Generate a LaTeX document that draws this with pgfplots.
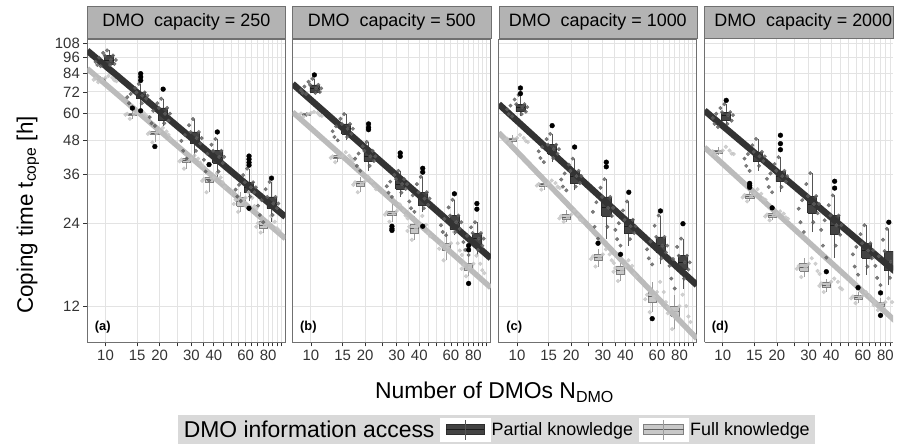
\documentclass[border=0pt]{standalone}
\usepackage{pgfplots}
\pgfplotsset{compat=1.18}
\usepackage{fontspec}
\setmainfont{Liberation Sans}

\definecolor{dkfill}{HTML}{434343}
\definecolor{dkline}{HTML}{2E2E2E}
\definecolor{dkmed}{HTML}{1C1C1C}
\definecolor{dkwhisk}{HTML}{555555}
\definecolor{ltfill}{HTML}{C8C8C8}
\definecolor{ltline}{HTML}{7F7F7F}
\definecolor{ltmed}{HTML}{5C5C5C}
\definecolor{ltwhisk}{HTML}{9C9C9C}
\definecolor{dkreg}{HTML}{333333}
\definecolor{ltreg}{HTML}{BBBBBB}
\definecolor{dkpt}{HTML}{5E5E5E}
\definecolor{ltpt}{HTML}{C4C4C4}
\definecolor{gridc}{HTML}{E3E3E3}
\definecolor{framec}{HTML}{707070}
\definecolor{tickc}{HTML}{333333}
\definecolor{stripc}{HTML}{B3B3B3}
\definecolor{legbg}{HTML}{D9D9D9}

% box: N, lower whisker, q1, median, q3, upper whisker
\newcommand{\dbox}[6]{%
  \pgfmathsetmacro{\bxc}{#1*1.045}\pgfmathsetmacro{\bxl}{#1*1.045/1.06}\pgfmathsetmacro{\bxr}{#1*1.045*1.06}%
  \addplot[color=dkwhisk, line width=0.7pt] coordinates {(\bxc,#2) (\bxc,#6)};
  \addplot[fill=dkfill, draw=dkline, line width=0.6pt] coordinates {(\bxl,#3) (\bxr,#3) (\bxr,#5) (\bxl,#5) (\bxl,#3)};
  \addplot[color=dkmed, line width=0.8pt] coordinates {(\bxl,#4) (\bxr,#4)};
}
\newcommand{\lbox}[6]{%
  \pgfmathsetmacro{\bxc}{#1*0.94}\pgfmathsetmacro{\bxl}{#1*0.94/1.055}\pgfmathsetmacro{\bxr}{#1*0.94*1.055}%
  \addplot[color=ltwhisk, line width=0.7pt] coordinates {(\bxc,#2) (\bxc,#6)};
  \addplot[fill=ltfill, draw=ltline, line width=0.6pt] coordinates {(\bxl,#3) (\bxr,#3) (\bxr,#5) (\bxl,#5) (\bxl,#3)};
  \addplot[color=ltmed, line width=0.8pt] coordinates {(\bxl,#4) (\bxr,#4)};
}
\newcommand{\tagfont}{\bfseries\fontsize{13}{13}\selectfont}
\newcommand{\tickfont}{\fontsize{15}{15}\selectfont}
\newcommand{\stripfont}{\fontsize{18}{18}\selectfont}

\begin{document}
\begin{tikzpicture}
\path (0,0) rectangle (897pt,447pt);

% ---------- (a) capacity 250
\begin{axis}[xmode=log, ymode=log, scale only axis, width=199pt, height=304.7pt,
    xmin=7.92, xmax=99.9, ymin=8.85, ymax=112,
    xtick={10,15,20,25,30,35,40,45,50,55,60,65,70,75,80,85,90,95},
    xticklabels={10,15,20,{},30,{},40,{},{},{},60,{},{},{},80,{},{},{}},
    ytick={12,24,36,48,60,72,84,96,108},
    yticklabels={12,24,36,48,60,72,84,96,108},
    minor xtick={}, minor ytick={},
    grid=major, major grid style={draw=gridc, line width=1pt},
    axis line style={draw=framec, line width=0.9pt},
    tick align=outside, major tick length=4pt,
    tick style={draw=tickc, line width=0.8pt},
    xtick pos=left, ytick pos=left,
    ticklabel style={font=\tickfont, text=tickc},
    title style={at={(0.5,1)}, anchor=south, yshift=-5pt, fill=stripc, draw=framec,
      minimum width=199pt, minimum height=32pt, inner sep=0pt, font=\stripfont},
  at={(87.7pt,103pt)}, anchor=south west,
  title={DMO\ \ capacity = 250},
  ylabel={Coping time t\textsubscript{cope} [h]},
  ylabel style={at={(axis description cs:-0.30,0.42)}, anchor=center, font=\fontsize{22.5}{22.5}\selectfont}]
\addplot[only marks, mark=*, mark size=1.9pt, color=ltpt, opacity=0.8] coordinates {
  (9.1,78.1) (10.9,81.0) (9.6,80.2) (10.4,82.4) (11.2,79.4) (8.8,80.6) (8.6,79.8) (10.0,81.0) (11.5,78.8)
  (13.65,57.5) (16.35,60.3) (14.4,59.7) (15.6,61.3) (16.8,59.2) (13.2,60.0) (12.9,59.5) (15.0,60.3) (17.25,58.4)
  (18.2,47.2) (21.8,51.7) (19.2,51.0) (20.8,53.3) (22.4,50.3) (17.6,51.3) (17.2,50.7) (20.0,51.7) (23.0,48.8)
  (27.3,37.9) (32.7,41.2) (28.8,40.6) (31.2,42.3) (33.6,39.9) (26.4,40.9) (25.8,40.3) (30.0,41.2) (34.5,38.9)
  (36.4,31.1) (43.6,35.2) (38.4,34.5) (41.6,36.5) (44.8,33.8) (35.2,34.8) (34.4,34.2) (40.0,35.2) (46.0,32.5)
  (54.6,26.4) (65.4,29.7) (57.6,28.7) (62.4,31.1) (67.2,27.7) (52.8,29.2) (51.6,28.2) (60.0,29.7) (69.0,27.1)
  (72.8,22.2) (87.2,24.3) (76.8,23.6) (83.2,25.5) (89.6,23.0) (70.4,24.0) (68.8,23.3) (80.0,24.3) (92.0,22.6)};
\addplot[only marks, mark=*, mark size=1.8pt, color=dkpt, opacity=0.8] coordinates {
  (9.0,90.2) (11.0,97.6) (9.4,89.3) (9.7,99.8) (10.7,94.1) (10.2,101.9) (9.2,95.9) (11.2,91.0) (8.8,92.6) (9.9,97.6) (10.6,90.2) (11.4,94.1)
  (13.5,65.5) (16.5,71.7) (14.1,62.9) (14.6,74.4) (16.0,69.8) (15.3,77.0) (13.8,70.8) (16.8,68.0) (13.2,68.9) (14.85,71.7) (15.9,65.5) (17.1,69.8)
  (18.0,55.4) (22.0,63.0) (18.8,54.2) (19.4,65.5) (21.4,60.0) (20.4,68.0) (18.4,61.5) (22.4,56.6) (17.6,58.3) (19.8,63.0) (21.2,55.4) (22.8,60.0)
  (27.0,44.0) (33.0,51.5) (28.2,41.2) (29.1,54.5) (32.1,48.9) (30.6,57.4) (27.6,50.2) (33.6,46.7) (26.4,47.8) (29.7,51.5) (31.8,44.0) (34.2,48.9)
  (36.0,37.0) (44.0,44.0) (37.6,34.3) (38.8,46.3) (42.8,41.8) (40.8,48.6) (36.8,42.9) (44.8,39.7) (35.2,40.8) (39.6,44.0) (42.4,37.0) (45.6,41.8)
  (54.0,30.0) (66.0,33.8) (56.4,28.9) (58.2,35.9) (64.2,32.4) (61.2,37.9) (55.2,33.1) (67.2,31.1) (52.8,31.8) (59.4,33.8) (63.6,30.0) (68.4,32.4)
  (72.0,25.7) (88.0,29.9) (75.2,24.2) (77.6,31.9) (85.6,28.3) (81.6,33.9) (73.6,29.1) (89.6,27.2) (70.4,27.8) (79.2,29.9) (84.8,25.7) (91.2,28.3)};
\lbox{10}{78.1}{79.4}{80.2}{81.0}{82.4}
\lbox{15}{57.5}{59.2}{59.7}{60.3}{61.3}
\lbox{20}{47.2}{50.3}{51.0}{51.7}{53.3}
\lbox{30}{37.9}{39.9}{40.6}{41.2}{42.3}
\lbox{40}{31.1}{33.8}{34.5}{35.2}{36.5}
\lbox{60}{26.4}{27.7}{28.7}{29.7}{31.1}
\lbox{80}{22.2}{23.0}{23.6}{24.3}{25.5}
\dbox{10}{89.3}{91.0}{94.1}{97.6}{101.9}
\dbox{15}{62.9}{68.0}{69.8}{71.7}{77.0}
\dbox{20}{54.2}{56.6}{60.0}{63.0}{68.0}
\dbox{30}{41.2}{46.7}{48.9}{51.5}{57.4}
\dbox{40}{34.3}{39.7}{41.8}{44.0}{48.6}
\dbox{60}{28.9}{31.1}{32.4}{33.8}{37.9}
\dbox{80}{24.2}{27.2}{28.3}{29.9}{33.9}
\addplot[color=ltreg, line width=5.5pt] coordinates {(7.92,87.5) (99.9,21.1)};
\addplot[color=dkreg, line width=6.5pt] coordinates {(7.92,101.7) (99.9,25.3)};
\addplot[only marks, mark=*, mark size=2.4pt, black] coordinates {(14.1,62.9) (18.8,45.6) (37.6,39.2)
  (15.68,83.9) (15.68,81.6) (15.68,79.3) (15.68,61.5) (20.9,73.7) (41.8,51.5)
  (62.7,42.1) (62.7,41.0) (62.7,39.9) (62.7,39.0) (62.7,27.2) (83.6,35.0)};
\node[anchor=west, font=\tagfont] at (rel axis cs:0.02,0.049) {(a)};
\end{axis}

% ---------- (b) capacity 500
\begin{axis}[xmode=log, ymode=log, scale only axis, width=199pt, height=304.7pt,
    xmin=7.92, xmax=99.9, ymin=8.85, ymax=112,
    xtick={10,15,20,25,30,35,40,45,50,55,60,65,70,75,80,85,90,95},
    xticklabels={10,15,20,{},30,{},40,{},{},{},60,{},{},{},80,{},{},{}},
    ytick={12,24,36,48,60,72,84,96,108}, yticklabels={}, y tick style={draw=none},
    minor xtick={}, minor ytick={},
    grid=major, major grid style={draw=gridc, line width=1pt},
    axis line style={draw=framec, line width=0.9pt},
    tick align=outside, major tick length=4pt,
    x tick style={draw=tickc, line width=0.8pt},
    xtick pos=left, ytick pos=left,
    ticklabel style={font=\tickfont, text=tickc},
    title style={at={(0.5,1)}, anchor=south, yshift=-5pt, fill=stripc, draw=framec,
      minimum width=199pt, minimum height=32pt, inner sep=0pt, font=\stripfont},
  at={(294pt,103pt)}, anchor=south west,
  title={DMO\ \ capacity = 500},
  xlabel={Number of DMOs N\textsubscript{DMO}},
  xlabel style={at={(axis description cs:1.0186,-0.165)}, anchor=center, font=\fontsize{23}{23}\selectfont}]
\addplot[only marks, mark=*, mark size=1.9pt, color=ltpt, opacity=0.8] coordinates {
  (9.1,58.6) (10.9,60.4) (9.6,59.8) (10.4,61.0) (11.2,59.2) (8.8,60.1) (8.6,59.5) (10.0,60.4) (11.5,58.9)
  (13.65,40.0) (16.35,42.2) (14.4,41.7) (15.6,43.5) (16.8,41.2) (13.2,42.0) (12.9,41.5) (15.0,42.2) (17.25,40.6)
  (18.2,31.1) (21.8,34.1) (19.2,33.4) (20.8,35.4) (22.4,32.7) (17.6,33.8) (17.2,33.1) (20.0,34.1) (23.0,31.9)
  (27.3,24.3) (32.7,26.6) (28.8,26.0) (31.2,28.1) (33.6,25.6) (26.4,26.3) (25.8,25.8) (30.0,26.6) (34.5,25.0)
  (36.4,20.9) (43.6,23.7) (38.4,22.9) (41.6,25.5) (44.8,22.1) (35.2,23.3) (34.4,22.5) (40.0,23.7) (46.0,21.5)
  (54.6,17.6) (65.4,20.3) (57.6,19.7) (62.4,22.3) (67.2,19.1) (52.8,20.0) (51.6,19.4) (60.0,20.3) (69.0,18.4)
  (72.8,15.4) (87.2,17.1) (76.8,16.6) (83.2,18.3) (89.6,16.2) (70.4,16.9) (68.8,16.4) (80.0,17.1) (92.0,15.8)};
\addplot[only marks, mark=*, mark size=1.8pt, color=dkpt, opacity=0.8] coordinates {
  (9.0,71.4) (11.0,76.4) (9.4,70.7) (9.7,78.4) (10.7,74.2) (10.2,80.4) (9.2,75.3) (11.2,72.0) (8.8,73.1) (9.9,76.4) (10.6,71.4) (11.4,74.2)
  (13.5,49.4) (16.5,55.1) (14.1,48.0) (14.6,57.5) (16.0,52.9) (15.3,59.8) (13.8,54.0) (16.8,50.7) (13.2,51.8) (14.85,55.1) (15.9,49.4) (17.1,52.9)
  (18.0,38.8) (22.0,44.0) (18.8,37.2) (19.4,45.7) (21.4,42.0) (20.4,47.4) (18.4,43.0) (22.4,40.4) (17.6,41.2) (19.8,44.0) (21.2,38.8) (22.8,42.0)
  (27.0,31.0) (33.0,34.7) (28.2,29.9) (29.1,36.0) (32.1,33.3) (30.6,37.2) (27.6,34.0) (33.6,32.0) (26.4,32.7) (29.7,34.7) (31.8,31.0) (34.2,33.3)
  (36.0,27.2) (44.0,31.1) (37.6,26.4) (38.8,33.3) (42.8,29.5) (40.8,35.4) (36.8,30.3) (44.8,28.0) (35.2,28.8) (39.6,31.1) (42.4,27.2) (45.6,29.5)
  (54.0,22.3) (66.0,25.6) (56.4,21.7) (58.2,27.4) (64.2,24.2) (61.2,29.2) (55.2,24.9) (67.2,22.9) (52.8,23.6) (59.4,25.6) (63.6,22.3) (68.4,24.2)
  (72.0,19.2) (88.0,22.1) (75.2,18.4) (77.6,23.2) (85.6,21.1) (81.6,24.2) (73.6,21.6) (89.6,19.9) (70.4,20.5) (79.2,22.1) (84.8,19.2) (91.2,21.1)};
\lbox{10}{58.6}{59.2}{59.8}{60.4}{61.0}
\lbox{15}{40.0}{41.2}{41.7}{42.2}{43.5}
\lbox{20}{31.1}{32.7}{33.4}{34.1}{35.4}
\lbox{30}{24.3}{25.6}{26.0}{26.6}{28.1}
\lbox{40}{20.9}{22.1}{22.9}{23.7}{25.5}
\lbox{60}{17.6}{19.1}{19.7}{20.3}{22.3}
\lbox{80}{15.4}{16.2}{16.6}{17.1}{18.3}
\dbox{10}{70.7}{72.0}{74.2}{76.4}{80.4}
\dbox{15}{48.0}{50.7}{52.9}{55.1}{59.8}
\dbox{20}{37.2}{40.4}{42.0}{44.0}{47.4}
\dbox{30}{29.9}{32.0}{33.3}{34.7}{37.2}
\dbox{40}{26.4}{28.0}{29.5}{31.1}{35.4}
\dbox{60}{21.7}{22.9}{24.2}{25.6}{29.2}
\dbox{80}{18.4}{19.9}{21.1}{22.1}{24.2}
\addplot[color=ltreg, line width=5.5pt] coordinates {(7.92,60.8) (99.9,14.0)};
\addplot[color=dkreg, line width=6.5pt] coordinates {(7.92,77.0) (99.9,17.9)};
\addplot[only marks, mark=*, mark size=2.4pt, black] coordinates {(28.2,23.4) (28.2,22.9) (28.2,22.6) (75.2,19.9) (75.2,19.2) (75.2,14.5)
  (10.45,83.0) (20.9,55.1) (20.9,53.5) (20.9,52.5) (31.35,43.2) (31.35,42.0)
  (41.8,38.0) (41.8,36.8) (41.8,23.4) (62.7,30.7) (83.6,28.3) (83.6,27.0)};
\node[anchor=west, font=\tagfont] at (rel axis cs:0.02,0.049) {(b)};
\end{axis}

% ---------- (c) capacity 1000
\begin{axis}[xmode=log, ymode=log, scale only axis, width=199pt, height=304.7pt,
    xmin=7.92, xmax=99.9, ymin=8.85, ymax=112,
    xtick={10,15,20,25,30,35,40,45,50,55,60,65,70,75,80,85,90,95},
    xticklabels={10,15,20,{},30,{},40,{},{},{},60,{},{},{},80,{},{},{}},
    ytick={12,24,36,48,60,72,84,96,108}, yticklabels={}, y tick style={draw=none},
    minor xtick={}, minor ytick={},
    grid=major, major grid style={draw=gridc, line width=1pt},
    axis line style={draw=framec, line width=0.9pt},
    tick align=outside, major tick length=4pt,
    x tick style={draw=tickc, line width=0.8pt},
    xtick pos=left, ytick pos=left,
    ticklabel style={font=\tickfont, text=tickc},
    title style={at={(0.5,1)}, anchor=south, yshift=-5pt, fill=stripc, draw=framec,
      minimum width=199pt, minimum height=32pt, inner sep=0pt, font=\stripfont},
  at={(501pt,103pt)}, anchor=south west,
  title={DMO\ \ capacity = 1000}]
\addplot[only marks, mark=*, mark size=1.9pt, color=ltpt, opacity=0.8] coordinates {
  (9.1,46.9) (10.9,49.0) (9.6,48.4) (10.4,50.3) (11.2,47.7) (8.8,48.7) (8.6,48.1) (10.0,49.0) (11.5,47.3)
  (13.65,31.8) (16.35,33.6) (14.4,33.1) (15.6,34.3) (16.8,32.6) (13.2,33.3) (12.9,32.9) (15.0,33.6) (17.25,32.2)
  (18.2,24.3) (21.8,25.8) (19.2,25.2) (20.8,26.7) (22.4,24.7) (17.6,25.5) (17.2,25.0) (20.0,25.8) (23.0,24.5)
  (27.3,16.7) (32.7,18.5) (28.8,18.0) (31.2,19.3) (33.6,17.6) (26.4,18.2) (25.8,17.8) (30.0,18.5) (34.5,17.2)
  (36.4,14.8) (43.6,16.8) (38.4,16.2) (41.6,17.6) (44.8,15.7) (35.2,16.5) (34.4,16.0) (40.0,16.8) (46.0,15.3)
  (54.6,11.4) (65.4,13.5) (57.6,13.0) (62.4,14.7) (67.2,12.4) (52.8,13.2) (51.6,12.7) (60.0,13.5) (69.0,11.9)
  (72.8,9.9) (87.2,12.0) (76.8,11.5) (83.2,13.2) (89.6,11.0) (70.4,11.7) (68.8,11.3) (80.0,12.0) (92.0,10.5)};
\addplot[only marks, mark=*, mark size=1.8pt, color=dkpt, opacity=0.8] coordinates {
  (9.0,59.8) (11.0,65.0) (9.4,58.7) (9.7,67.6) (10.7,63.4) (10.2,70.2) (9.2,64.2) (11.2,61.0) (8.8,62.2) (9.9,65.0) (10.6,59.8) (11.4,63.4)
  (13.5,41.4) (16.5,46.3) (14.1,40.0) (14.6,48.5) (16.0,44.6) (15.3,50.7) (13.8,45.4) (16.8,42.9) (13.2,43.8) (14.85,46.3) (15.9,41.4) (17.1,44.6)
  (18.0,32.6) (22.0,37.2) (18.8,31.6) (19.4,39.2) (21.4,35.6) (20.4,41.2) (18.4,36.4) (22.4,33.6) (17.6,34.6) (19.8,37.2) (21.2,32.6) (22.8,35.6)
  (27.0,23.3) (33.0,29.9) (28.2,21.1) (29.1,32.3) (32.1,27.3) (30.6,34.7) (27.6,28.6) (33.6,25.5) (26.4,26.4) (29.7,29.9) (31.8,23.3) (34.2,27.3)
  (36.0,21.0) (44.0,24.7) (37.6,19.9) (38.8,26.7) (42.8,23.4) (40.8,28.8) (36.8,24.0) (44.8,22.1) (35.2,22.7) (39.6,24.7) (42.4,21.0) (45.6,23.4)
  (54.0,17.9) (66.0,21.4) (56.4,17.0) (58.2,23.5) (64.2,19.9) (61.2,25.6) (55.2,20.6) (67.2,18.8) (52.8,19.3) (59.4,21.4) (63.6,17.9) (68.4,19.9)
  (72.0,15.1) (88.0,18.3) (75.2,13.9) (77.6,19.7) (85.6,17.3) (81.6,21.1) (73.6,17.8) (89.6,16.3) (70.4,16.8) (79.2,18.3) (84.8,15.1) (91.2,17.3)};
\lbox{10}{46.9}{47.7}{48.4}{49.0}{50.3}
\lbox{15}{31.8}{32.6}{33.1}{33.6}{34.3}
\lbox{20}{24.3}{24.7}{25.2}{25.8}{26.7}
\lbox{30}{16.7}{17.6}{18.0}{18.5}{19.3}
\lbox{40}{14.8}{15.7}{16.2}{16.8}{17.6}
\lbox{60}{11.4}{12.4}{13.0}{13.5}{14.7}
\lbox{80}{9.9}{11.0}{11.5}{12.0}{13.2}
\dbox{10}{58.7}{61.0}{63.4}{65.0}{70.2}
\dbox{15}{40.0}{42.9}{44.6}{46.3}{50.7}
\dbox{20}{31.6}{33.6}{35.6}{37.2}{41.2}
\dbox{30}{21.1}{25.5}{27.3}{29.9}{34.7}
\dbox{40}{19.9}{22.1}{23.4}{24.7}{28.8}
\dbox{60}{17.0}{18.8}{19.9}{21.4}{25.6}
\dbox{80}{13.9}{16.3}{17.3}{18.3}{21.1}
\addplot[color=ltreg, line width=5.5pt] coordinates {(7.92,51.2) (99.9,9.14)};
\addplot[color=dkreg, line width=6.5pt] coordinates {(7.92,65.0) (99.9,14.3)};
\addplot[only marks, mark=*, mark size=2.4pt, black] coordinates {(28.2,20.3) (37.6,18.5) (56.4,10.8)
  (10.45,74.4) (10.45,71.0) (15.68,54.3) (20.9,45.4) (31.35,40.0) (31.35,38.5)
  (41.8,31.1) (62.7,26.6) (83.6,23.9)};
\node[anchor=west, font=\tagfont] at (rel axis cs:0.02,0.049) {(c)};
\end{axis}

% ---------- (d) capacity 2000, cut at the right edge as in the original
\begin{axis}[xmode=log, ymode=log, scale only axis, width=189.3pt, height=304.7pt,
    xmin=7.92, xmax=88.2, ymin=8.85, ymax=112,
    axis x line*=bottom, axis y line*=left,
    xtick={10,15,20,25,30,35,40,45,50,55,60,65,70,75,80,85},
    xticklabels={10,15,20,{},30,{},40,{},{},{},60,{},{},{},80,{}},
    ytick={12,24,36,48,60,72,84,96,108}, yticklabels={}, y tick style={draw=none},
    minor xtick={}, minor ytick={},
    grid=major, major grid style={draw=gridc, line width=1pt},
    axis line style={draw=framec, line width=0.9pt, -},
    tick align=outside, major tick length=4pt,
    x tick style={draw=tickc, line width=0.8pt},
    xtick pos=left, ytick pos=left,
    ticklabel style={font=\tickfont, text=tickc},
    title style={at={(0.5,1)}, anchor=south, yshift=-5pt, fill=stripc, draw=framec,
      minimum width=189.3pt, minimum height=32pt, inner sep=0pt, font=\stripfont},
  at={(707.7pt,103pt)}, anchor=south west,
  title={\hspace*{9pt}DMO\ \ capacity = 2000}]
\addplot[only marks, mark=*, mark size=1.9pt, color=ltpt, opacity=0.8] coordinates {
  (9.1,42.5) (10.9,44.1) (9.6,43.6) (10.4,45.5) (11.2,43.0) (8.8,43.8) (8.6,43.3) (10.0,44.1) (11.5,42.8)
  (13.65,28.8) (16.35,30.7) (14.4,30.1) (15.6,31.9) (16.8,29.5) (13.2,30.4) (12.9,29.8) (15.0,30.7) (17.25,29.2)
  (18.2,24.6) (21.8,26.0) (19.2,25.6) (20.8,26.5) (22.4,25.2) (17.6,25.8) (17.2,25.4) (20.0,26.0) (23.0,24.9)
  (27.3,15.3) (32.7,17.1) (28.8,16.6) (31.2,17.9) (33.6,16.1) (26.4,16.8) (25.8,16.4) (30.0,17.1) (34.5,15.7)
  (36.4,13.5) (43.6,14.7) (38.4,14.3) (41.6,15.1) (44.8,14.0) (35.2,14.5) (34.4,14.2) (40.0,14.7) (46.0,13.8)
  (54.6,12.3) (65.4,13.1) (57.6,12.9) (62.4,13.5) (67.2,12.7) (52.8,13.0) (51.6,12.8) (60.0,13.1) (69.0,12.5)
  (72.8,11.6) (87.2,12.4) (76.8,12.2) (83.2,12.8) (70.4,12.3) (68.8,12.1) (80.0,12.4)};
\addplot[only marks, mark=*, mark size=1.8pt, color=dkpt, opacity=0.8] coordinates {
  (9.0,55.1) (11.0,60.8) (9.4,53.7) (9.7,62.9) (10.7,59.3) (10.2,65.0) (9.2,60.0) (11.2,56.6) (8.8,57.9) (9.9,60.8) (10.6,55.1) (11.4,59.3)
  (13.5,38.8) (16.5,43.6) (14.1,37.2) (14.6,46.1) (16.0,42.0) (15.3,48.6) (13.8,42.8) (16.8,40.4) (13.2,41.2) (14.85,43.6) (15.9,38.8) (17.1,42.0)
  (18.0,32.5) (22.0,37.2) (18.8,31.1) (19.4,39.4) (21.4,35.6) (20.4,41.7) (18.4,36.4) (22.4,34.0) (17.6,34.8) (19.8,37.2) (21.2,32.5) (22.8,35.6)
  (27.0,24.2) (33.0,30.1) (28.2,22.3) (29.1,33.3) (32.1,28.2) (30.6,36.5) (27.6,29.1) (33.6,26.1) (26.4,27.1) (29.7,30.1) (31.8,24.2) (34.2,28.2)
  (36.0,19.9) (44.0,25.6) (37.6,18.0) (38.8,27.9) (42.8,23.6) (40.8,30.3) (36.8,24.6) (44.8,21.8) (35.2,22.7) (39.6,25.6) (42.4,19.9) (45.6,23.6)
  (54.0,16.7) (66.0,20.3) (56.4,15.6) (58.2,21.9) (64.2,19.1) (61.2,23.6) (55.2,19.7) (67.2,17.9) (52.8,18.5) (59.4,20.3) (63.6,16.7) (68.4,19.1)
  (72.0,15.2) (75.2,14.3) (77.6,20.9) (85.6,17.4) (81.6,22.9) (73.6,18.2) (70.4,16.8) (79.2,19.0) (84.8,15.2)};
\lbox{10}{42.5}{43.0}{43.6}{44.1}{45.5}
\lbox{15}{28.8}{29.5}{30.1}{30.7}{31.9}
\lbox{20}{24.6}{25.2}{25.6}{26.0}{26.5}
\lbox{30}{15.3}{16.1}{16.6}{17.1}{17.9}
\lbox{40}{13.5}{14.0}{14.3}{14.7}{15.1}
\lbox{60}{12.3}{12.7}{12.9}{13.1}{13.5}
\lbox{80}{11.6}{12.0}{12.2}{12.4}{12.8}
\dbox{10}{53.7}{56.6}{59.3}{60.8}{65.0}
\dbox{15}{37.2}{40.4}{42.0}{43.6}{48.6}
\dbox{20}{31.1}{34.0}{35.6}{37.2}{41.7}
\dbox{30}{22.3}{26.1}{28.2}{30.1}{36.5}
\dbox{40}{18.0}{21.8}{23.6}{25.6}{30.3}
\dbox{60}{15.6}{17.9}{19.1}{20.3}{23.6}
\dbox{80}{14.3}{16.2}{17.4}{19.0}{22.9}
\addplot[color=ltreg, line width=5.5pt] coordinates {(7.92,45.3) (99.9,10.0)};
\addplot[color=dkreg, line width=6.5pt] coordinates {(7.92,61.6) (99.9,15.2)};
\addplot[only marks, mark=*, mark size=2.4pt, black] coordinates {(14.1,33.5) (14.1,32.9) (14.1,32.4) (18.8,27.3) (37.6,16.0) (56.4,14.0) (75.2,13.4) (75.2,11.1)
  (10.45,67.1) (20.9,50.1) (20.9,46.7) (20.9,44.4) (41.8,34.1) (41.8,32.2) (83.6,24.2)};
\node[anchor=west, font=\tagfont] at (rel axis cs:0.02,0.049) {(d)};
\end{axis}

% ---------- legend
\begin{axis}[at={(499pt,15.5pt)}, anchor=center, scale only axis, width=10pt, height=10pt,
  hide axis, xmin=0, xmax=1, ymin=0, ymax=1,
  legend columns=-1,
  legend style={at={(0.5,0.5)}, anchor=center, fill=legbg, draw=none,
    inner xsep=4pt, inner ysep=2.5pt, font=\fontsize{18}{18}\selectfont,
    nodes={inner xsep=1.5pt},
    /tikz/every even column/.append style={column sep=4pt}}]
\addlegendimage{empty legend}
\addlegendentry{\fontsize{23}{23}\selectfont DMO information access}
\addlegendimage{legend image code/.code={
  \path[fill=white, draw=white, fill opacity=1, draw opacity=1] (0pt,-11.5pt) rectangle (50pt,11.5pt);
  \filldraw[fill=dkfill, draw=dkline, line width=0.6pt] (6pt,-5pt) rectangle (44pt,5pt);
  \draw[dkmed, line width=0.6pt] (6pt,0pt) -- (44pt,0pt);
  \draw[dkwhisk, line width=0.6pt] (25pt,-10pt) -- (25pt,10pt);}}
\addlegendentry{Partial knowledge}
\addlegendimage{legend image code/.code={
  \path[fill=white, draw=white, fill opacity=1, draw opacity=1] (0pt,-11.5pt) rectangle (50pt,11.5pt);
  \filldraw[fill=ltfill, draw=ltline, line width=0.6pt] (5pt,-5pt) rectangle (45pt,5pt);
  \draw[ltmed, line width=0.6pt] (5pt,0pt) -- (45pt,0pt);
  \draw[ltwhisk, line width=0.6pt] (25pt,-10pt) -- (25pt,10pt);}}
\addlegendentry{Full knowledge}
\end{axis}
\end{tikzpicture}
\end{document}
